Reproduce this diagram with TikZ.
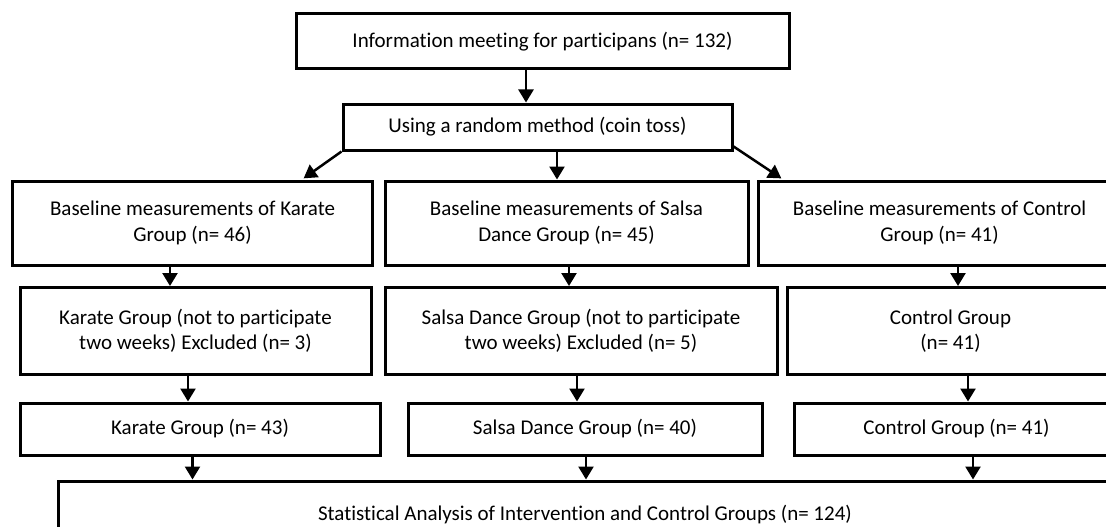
\documentclass[tikz,border=0pt]{standalone}
\usepackage{fontspec}
\setmainfont{Carlito}[Ligatures=CommonOff]
\usepackage{tikz}
\usetikzlibrary{arrows.meta}

\begin{document}
\begin{tikzpicture}[
  x=1pt, y=-1pt,
  font=\fontsize{21}{25.5}\selectfont,
  box/.style={draw=black, line width=3pt, fill=white, align=center, inner sep=2pt},
  flow/.style={-{Triangle[length=13pt,width=15pt]}, draw=black, line width=2.5pt},
]
% Frame of the figure: the right and bottom edges cut the outer boxes.
\useasboundingbox[fill=white] (0,0) rectangle (1106,527);
\clip (0,0) rectangle (1106,527);

% Recruitment and allocation.
\node[box, minimum width=493pt, minimum height=55pt] (info) at (542.5,41.5) {Information meeting for participans (n= 132)};
\node[box, minimum width=389pt, minimum height=46pt] (rand) at (537.5,127) {Using a random method (coin toss)};

% Baseline measurements, one box per group.
\node[box, minimum width=360pt, minimum height=84pt] (baseK) at (192.5,223) {Baseline measurements of Karate\\Group (n= 46)};
\node[box, minimum width=363pt, minimum height=84pt] (baseS) at (566.5,223) {Baseline measurements of Salsa\\Dance Group (n= 45)};
\node[box, minimum width=363pt, minimum height=84pt] (baseC) at (939.5,223) {Baseline measurements of Control\\Group (n= 41)};

% Exclusions during the intervention.
\node[box, minimum width=351pt, minimum height=87pt] (exK) at (195.5,331) {Karate Group (not to participate\\two weeks) Excluded (n= 3)};
\node[box, minimum width=392pt, minimum height=87pt] (exS) at (581,331) {Salsa Dance Group (not to participate\\two weeks) Excluded (n= 5)};
\node[box, minimum width=327pt, minimum height=87pt] (exC) at (950.5,331) {Control Group\\(n= 41)};

% Groups that finished.
\node[box, minimum width=360pt, minimum height=52pt] (finK) at (200,429) {Karate Group (n= 43)};
\node[box, minimum width=354pt, minimum height=52pt] (finS) at (585,429) {Salsa Dance Group (n= 40)};
\node[box, minimum width=325pt, minimum height=52pt] (finC) at (956.5,429) {Control Group (n= 41)};

% Analysis of all groups together.
\node[box, minimum width=1054pt, minimum height=68pt] (stat) at (585,515) {Statistical Analysis of Intervention and Control Groups (n= 124)};

% Straight arrows down, each at its own x.
\foreach \a/\b/\x in {info/rand/526, rand/baseS/557,
                      baseK/exK/170, exK/finK/188, finK/stat/192.5,
                      baseS/exS/569, exS/finS/577, finS/stat/586,
                      baseC/exC/958, exC/finC/968, finC/stat/973} {
  \draw[flow] (\a.south -| \x,0) -- (\b.north -| \x,0);
}

% Slanted arrows to the outer groups.
\draw[flow, shorten >=2pt] (rand.south west) -- (baseK.north -| 302,0);
\draw[flow, shorten >=2pt] ([yshift=5pt]rand.south east) -- (baseC.north -| 783,0);
\end{tikzpicture}
\end{document}
